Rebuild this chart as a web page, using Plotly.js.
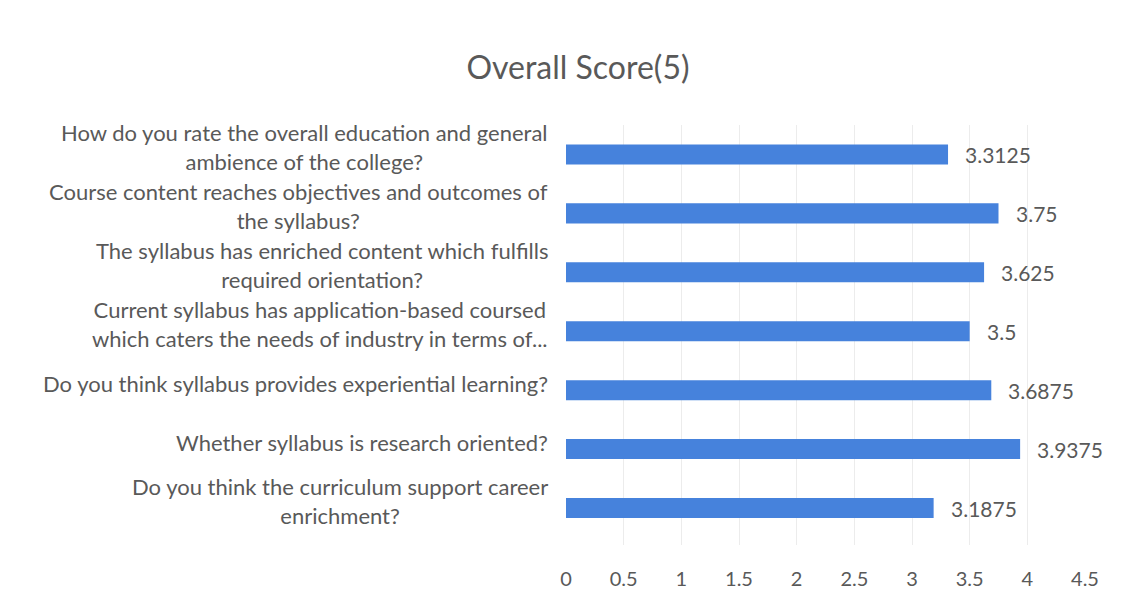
<!DOCTYPE html>
<html>
<head>
<meta charset="utf-8">
<script src="https://cdn.plot.ly/plotly-3.0.1.min.js"></script>
<style>html,body{margin:0;padding:0;background:#fff;}#chart{width:1127px;height:600px;}</style>
</head>
<body>
<div id="chart"></div>
<script>
const categories = [
  "How do you rate the overall education and general<br>ambience of the college?",
  "Course content reaches objectives and outcomes of<br>the syllabus?",
  "The syllabus has enriched content which fulfills<br>required orientation?",
  "Current syllabus has application-based coursed<br>which caters the needs of industry in terms of...",
  "Do you think syllabus provides experiential learning?",
  "Whether syllabus is research oriented?",
  "Do you think the curriculum support career<br>enrichment?"
];
const scores = [3.3125, 3.75, 3.625, 3.5, 3.6875, 3.9375, 3.1875];
const tickVals = [0, 0.5, 1, 1.5, 2, 2.5, 3, 3.5, 4, 4.5];
const chartTitle = "Overall Score(5)";

const FONT = "Lato, 'Noto Sans', sans-serif";
const GREY = "#595959";

const ids = categories.map((c, i) => "c" + i);

const trace = {
  type: "bar",
  orientation: "h",
  x: scores,
  y: ids,
  marker: { color: "#4682dc" },
  hoverinfo: "none"
};

const annotations = [];
categories.forEach((c, i) => {
  annotations.push({
    xref: "paper", yref: "y",
    x: 0, y: ids[i],
    xanchor: "right", yanchor: "middle",
    xshift: -16, yshift: 7,
    text: c, align: "center", showarrow: false,
    font: { family: FONT, size: 22, color: GREY }
  });
  annotations.push({
    xref: "x", yref: "y",
    x: scores[i], y: ids[i],
    xanchor: "left", yanchor: "middle",
    xshift: 15,
    text: String(scores[i]), showarrow: false,
    font: { family: FONT, size: 21, color: GREY }
  });
});

const layout = {
  width: 1127, height: 600,
  paper_bgcolor: "#ffffff", plot_bgcolor: "#ffffff",
  margin: { l: 566, r: 42, t: 125, b: 55 },
  title: {
    text: chartTitle,
    font: { family: FONT, size: 32, color: GREY },
    x: 578 / 1127, xanchor: "center", xref: "container",
    y: 1 - 68 / 600, yanchor: "middle", yref: "container"
  },
  bargap: 0.66,
  showlegend: false,
  xaxis: {
    range: [0, 4.5],
    tickvals: tickVals,
    ticktext: tickVals.map(String),
    showgrid: true, gridcolor: "#ececec", gridwidth: 1,
    zeroline: false, showline: false, ticks: "",
    ticklabelstandoff: 20,
    tickfont: { family: FONT, size: 20, color: GREY },
    fixedrange: true
  },
  yaxis: {
    type: "category",
    autorange: "reversed",
    showticklabels: false,
    showgrid: false, zeroline: false, showline: false, ticks: "",
    fixedrange: true
  },
  annotations: annotations
};

Plotly.newPlot("chart", [trace], layout, { staticPlot: true, displayModeBar: false });
</script>
</body>
</html>
